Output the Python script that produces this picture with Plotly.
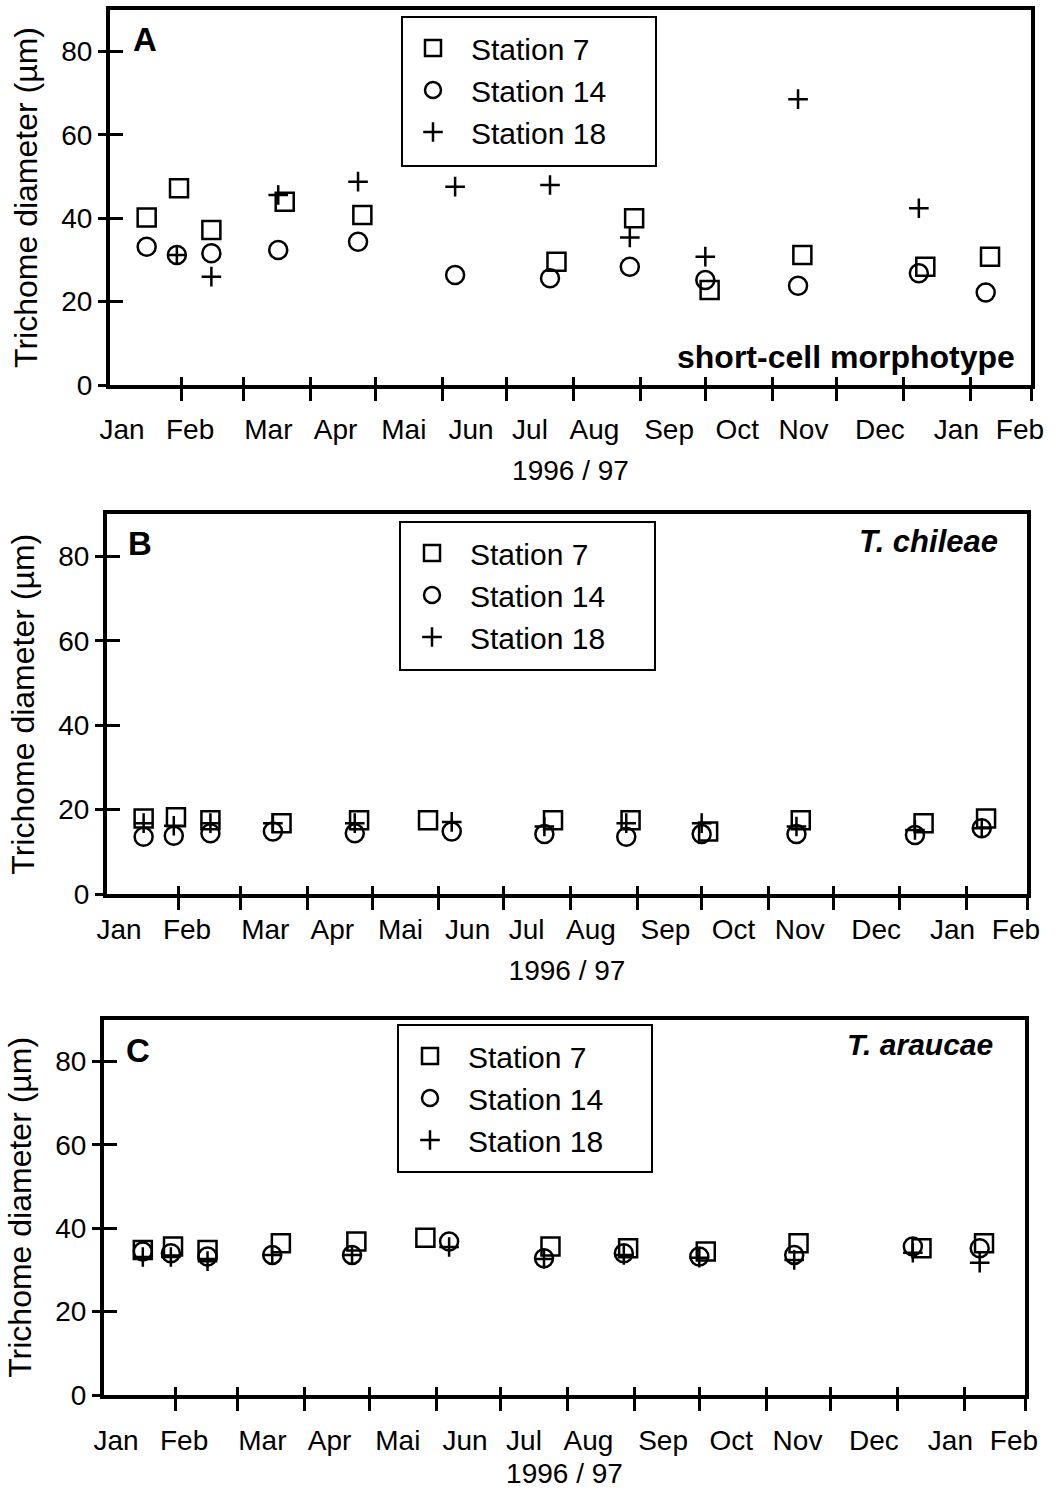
import plotly.graph_objects as go

W, H = 1056, 1500
FONT = "Liberation Sans, Arial, Helvetica, sans-serif"

# ---------------- data ----------------
MONTH_STARTS = ["1996-02-01", "1996-03-01", "1996-04-01", "1996-05-01", "1996-06-01",
                "1996-07-01", "1996-08-01", "1996-09-01", "1996-10-01", "1996-11-01",
                "1996-12-01", "1997-01-01", "1997-02-01", "1997-03-01"]
MONTH_LABELS = ["Jan", "Feb", "Mar", "Apr", "Mai", "Jun", "Jul", "Aug", "Sep", "Oct",
                "Nov", "Dec", "Jan", "Feb"]
Y_TICKS = [0, 20, 40, 60, 80]
STATIONS = ["Station 7", "Station 14", "Station 18"]
LETTERS = ["A", "B", "C"]
PANEL_TITLES = ["<b>short-cell morphotype</b>", "<b><i>T. chileae</i></b>", "<b><i>T. araucae</i></b>"]
YEAR_LABEL = "1996 / 97"
Y_TITLE = "Trichome diameter (µm)"

# Panel A - short-cell morphotype
A_S7_DATES = ["1996-01-16", "1996-01-31", "1996-02-15", "1996-03-20", "1996-04-25", "1996-07-24",
              "1996-08-29", "1996-10-03", "1996-11-15", "1997-01-11", "1997-02-10"]
A_S7_VALUES = [40.2, 47.2, 37.2, 44.0, 40.8, 29.6, 40.0, 22.8, 31.2, 28.4, 30.8]
A_S14_DATES = ["1996-01-16", "1996-01-30", "1996-02-15", "1996-03-17", "1996-04-23", "1996-06-07",
               "1996-07-21", "1996-08-27", "1996-10-01", "1996-11-13", "1997-01-08", "1997-02-08"]
A_S14_VALUES = [33.2, 31.2, 31.6, 32.4, 34.4, 26.4, 25.6, 28.4, 25.2, 23.8, 26.8, 22.2]
A_S18_DATES = ["1996-01-30", "1996-02-15", "1996-03-17", "1996-04-23", "1996-06-07", "1996-07-21",
               "1996-08-27", "1996-10-01", "1996-11-13", "1997-01-08"]
A_S18_VALUES = [31.2, 26.0, 45.6, 48.8, 47.6, 48.0, 35.4, 30.8, 68.6, 42.4]

# Panel B - T. chileae
B_S7_DATES = ["1996-01-16", "1996-01-31", "1996-02-16", "1996-03-20", "1996-04-25", "1996-05-27",
              "1996-07-24", "1996-08-29", "1996-10-04", "1996-11-16", "1997-01-12", "1997-02-10"]
B_S7_VALUES = [17.9, 18.2, 17.5, 16.8, 17.5, 17.5, 17.5, 17.5, 14.8, 17.5, 16.8, 17.9]
B_S14_DATES = ["1996-01-16", "1996-01-30", "1996-02-16", "1996-03-16", "1996-04-23", "1996-06-07",
               "1996-07-20", "1996-08-27", "1996-10-01", "1996-11-14", "1997-01-08", "1997-02-08"]
B_S14_VALUES = [13.6, 13.8, 14.4, 14.8, 14.4, 14.8, 14.2, 13.6, 14.2, 14.2, 14.0, 15.6]
B_S18_DATES = B_S14_DATES
B_S18_VALUES = [16.8, 16.2, 16.8, 16.8, 16.8, 17.1, 16.0, 16.8, 16.8, 16.0, 15.2, 15.6]

# Panel C - T. araucae
C_S7_DATES = ["1996-01-17", "1996-01-31", "1996-02-16", "1996-03-21", "1996-04-25", "1996-05-27",
              "1996-07-24", "1996-08-29", "1996-10-04", "1996-11-16", "1997-01-12", "1997-02-10"]
C_S7_VALUES = [34.8, 35.6, 34.8, 36.4, 36.8, 37.7, 35.6, 35.2, 34.4, 36.4, 35.2, 36.4]
C_S14_DATES = ["1996-01-17", "1996-01-30", "1996-02-16", "1996-03-17", "1996-04-23", "1996-06-07",
               "1996-07-21", "1996-08-27", "1996-10-01", "1996-11-14", "1997-01-08", "1997-02-08"]
C_S14_VALUES = [34.4, 34.0, 33.2, 33.6, 33.6, 36.8, 32.8, 34.0, 33.2, 33.6, 35.6, 35.2]
C_S18_DATES = C_S14_DATES
C_S18_VALUES = [33.1, 33.1, 32.1, 33.6, 33.6, 35.5, 32.6, 33.6, 32.9, 32.4, 34.1, 31.7]

PANEL_DATA = [
    [(A_S7_DATES, A_S7_VALUES), (A_S14_DATES, A_S14_VALUES), (A_S18_DATES, A_S18_VALUES)],
    [(B_S7_DATES, B_S7_VALUES), (B_S14_DATES, B_S14_VALUES), (B_S18_DATES, B_S18_VALUES)],
    [(C_S7_DATES, C_S7_VALUES), (C_S14_DATES, C_S14_VALUES), (C_S18_DATES, C_S18_VALUES)],
]

# ---------------- layout / style ----------------
X_RANGE = ["1995-12-30", "1997-03-01"]
Y_RANGE = [0, 90]
LABEL_POS = [0.013, 0.087, 0.172, 0.245, 0.319, 0.392, 0.456, 0.526, 0.607, 0.681,
             0.753, 0.836, 0.919, 0.988]

PANELS = [
    dict(x0=110, x1=1031, ybot=385, ppu=4.167, leg=(395, 22), box=(402, 17, 656, 166),
         letter=(145, 40), title=(1017, 357), tsize=32, lab_so=25, year_so=16),
    dict(x0=107, x1=1027, ybot=894, ppu=4.217, leg=(394, 527), box=(400, 522, 655, 670),
         letter=(140, 543), title=(1000, 542), tsize=31, lab_so=16, year_so=16),
    dict(x0=104, x1=1025, ybot=1395, ppu=4.170, leg=(392, 1030), box=(398, 1025, 652, 1172),
         letter=(138, 1050), title=(995, 1044), tsize=30, lab_so=26, year_so=8),
]

SYMBOLS = [dict(symbol="square-open", size=18),
           dict(symbol="circle-open", size=18),
           dict(symbol="cross-thin-open", size=14)]

TICK = dict(tickwidth=2.5, tickcolor="black")
NOAX = dict(showgrid=False, zeroline=False, automargin=False)

fig = go.Figure()
layout = dict(width=W, height=H, margin=dict(l=0, r=0, t=0, b=0, autoexpand=False),
              paper_bgcolor="white", plot_bgcolor="white",
              font=dict(family=FONT, color="black"),
              showlegend=True, shapes=[], annotations=[])


def xid(n):
    return "x" if n == 1 else f"x{n}"


def yid(n):
    return "y" if n == 1 else f"y{n}"


def key(prefix, n):
    return prefix if n == 1 else f"{prefix}{n}"


for i, p in enumerate(PANELS):
    mx, lx, tx = 3 * i + 1, 3 * i + 2, 3 * i + 3
    my, ty = 2 * i + 1, 2 * i + 2
    leg_key = key("legend", i + 1)

    xdom = [p["x0"] / W, p["x1"] / W]
    ytop = p["ybot"] - (Y_RANGE[1] - Y_RANGE[0]) * p["ppu"]
    ydom = [1 - p["ybot"] / H, 1 - ytop / H]

    # main x axis: frame line + outward month-boundary ticks
    layout[key("xaxis", mx)] = dict(
        type="date", domain=xdom, range=X_RANGE, anchor=yid(my),
        showline=True, linewidth=4, linecolor="black", mirror=True,
        ticks="outside", ticklen=12, **TICK,
        tickmode="array", tickvals=MONTH_STARTS, showticklabels=False, **NOAX,
    )
    # label axis: month names + year title
    layout[key("xaxis", lx)] = dict(
        type="linear", domain=xdom, range=[0, 1], anchor=yid(my), overlaying=xid(mx),
        side="bottom", showline=False, ticks="",
        tickmode="array", tickvals=LABEL_POS, ticktext=MONTH_LABELS,
        tickfont=dict(size=28, family=FONT), ticklabelstandoff=p["lab_so"],
        title=dict(text=YEAR_LABEL, font=dict(size=28, family=FONT), standoff=p["year_so"]),
        **NOAX,
    )
    # inward tick marks (crossing ticks)
    layout[key("xaxis", tx)] = dict(
        type="date", domain=xdom, range=X_RANGE, anchor=yid(my), overlaying=xid(mx),
        side="bottom", showline=False, ticks="inside", ticklen=8, **TICK,
        tickmode="array", tickvals=MONTH_STARTS, showticklabels=False, **NOAX,
    )
    layout[key("yaxis", my)] = dict(
        domain=ydom, range=Y_RANGE, anchor=xid(mx),
        showline=True, linewidth=4, linecolor="black", mirror=True,
        ticks="outside", ticklen=8, **TICK,
        tickmode="array", tickvals=Y_TICKS, tickfont=dict(size=28, family=FONT),
        ticklabelstandoff=0,
        title=dict(text=Y_TITLE, font=dict(size=32, family=FONT), standoff=15),
        **NOAX,
    )
    layout[key("yaxis", ty)] = dict(
        domain=ydom, range=Y_RANGE, anchor=xid(mx), overlaying=yid(my), side="left",
        showline=False, ticks="inside", ticklen=13, **TICK,
        tickmode="array", tickvals=Y_TICKS, showticklabels=False, **NOAX,
    )
    layout[leg_key] = dict(
        x=p["leg"][0] / W, y=1 - p["leg"][1] / H, xanchor="left", yanchor="top",
        xref="paper", yref="paper",
        bgcolor="rgba(0,0,0,0)", borderwidth=0, itemwidth=66, tracegroupgap=0,
        font=dict(size=30, family=FONT, color="black"),
    )
    bx0, by0, bx1, by1 = p["box"]
    layout["shapes"].append(dict(type="rect", xref="paper", yref="paper",
                                 x0=bx0 / W, x1=bx1 / W, y0=1 - by1 / H, y1=1 - by0 / H,
                                 line=dict(color="black", width=2), fillcolor="rgba(0,0,0,0)"))
    layout["annotations"].append(dict(
        text=f"<b>{LETTERS[i]}</b>", xref="paper", yref="paper",
        x=p["letter"][0] / W, y=1 - p["letter"][1] / H, xanchor="center", yanchor="middle",
        showarrow=False, font=dict(size=33, family=FONT, color="black")))
    layout["annotations"].append(dict(
        text=PANEL_TITLES[i], xref="paper", yref="paper",
        x=p["title"][0] / W, y=1 - p["title"][1] / H, xanchor="right", yanchor="middle",
        showarrow=False, font=dict(size=p["tsize"], family=FONT, color="black")))

    for s, (dates, vals) in enumerate(PANEL_DATA[i]):
        fig.add_trace(go.Scatter(
            x=dates, y=vals, mode="markers", name=STATIONS[s],
            xaxis=xid(mx), yaxis=yid(my), legend=leg_key,
            marker=dict(symbol=SYMBOLS[s]["symbol"], size=SYMBOLS[s]["size"], color="black",
                        line=dict(color="black", width=2.5)),
        ))
    # empty traces so the overlay axes are registered
    for xa, ya in [(xid(lx), yid(my)), (xid(tx), yid(my)), (xid(mx), yid(ty))]:
        fig.add_trace(go.Scatter(x=[None], y=[None], xaxis=xa, yaxis=ya, mode="markers",
                                 showlegend=False, hoverinfo="skip"))

fig.update_layout(**layout)
fig.write_html("out.html")
